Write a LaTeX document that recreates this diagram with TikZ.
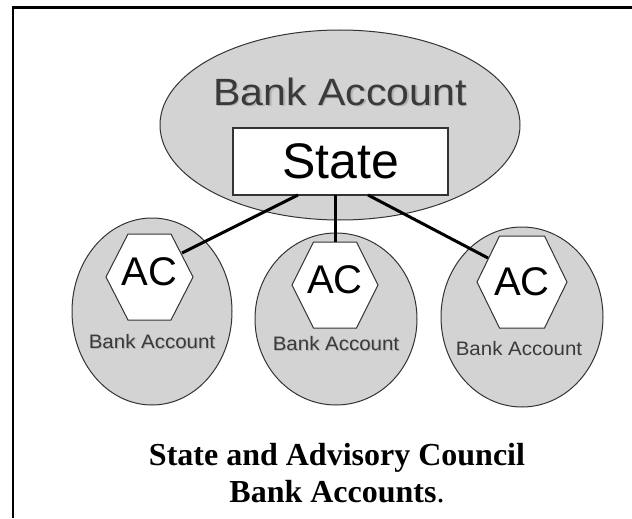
\documentclass[tikz,border=0pt]{standalone}
\usepackage{fontspec}
\setmainfont{Liberation Serif}
\newfontfamily\arialfont{Liberation Sans}
\usetikzlibrary{shapes.geometric}
\definecolor{ellfill}{HTML}{D3D3D3}
\definecolor{ellline}{HTML}{333333}
\definecolor{txtgray}{HTML}{3A3A3A}
\definecolor{shadowgray}{HTML}{8A8A8A}
\tikzset{
  account/.style={ellipse, draw=ellline, fill=ellfill, line width=1pt, inner sep=0pt},
  hexbox/.style={draw=ellline, fill=white, line width=1pt},
  bigtxt/.style={font=\arialfont\fontsize{38}{40}\selectfont, text=txtgray, anchor=base, xscale=1.08},
  smalltxt/.style={font=\arialfont\fontsize{19.5}{22}\selectfont, text=txtgray, anchor=base, xscale=1.05},
  txtshadow/.style={text=shadowgray, text opacity=0.45},
  actxt/.style={font=\arialfont\fontsize{40}{44}\selectfont, anchor=base},
  link/.style={line width=3pt, black},
  captxt/.style={font=\bfseries\fontsize{32}{37}\selectfont, anchor=base}
}
\begin{document}
\begin{tikzpicture}[x=1pt,y=-1pt]
\useasboundingbox (0,0) rectangle (632,519);
% frame
\coordinate (fbl) at (13,518);
\coordinate (ftr) at (632,7.5);
\draw[line width=2.4pt] (fbl) |- (ftr);

% big ellipse
\node[account, minimum width=360, minimum height=190] (big) at (340,125) {};
\node[bigtxt, txtshadow] (bigshadow) at (341.5,106.5) {Bank Account};
\node[bigtxt] (bigtext) at (340,105) {Bank Account};
\node[draw=ellline, fill=white, line width=1.2pt, minimum width=215, minimum height=67, inner sep=0pt,
      font=\arialfont\fontsize{50}{54}\selectfont] (state) at (340.5,161.5) {State};

% small ellipses
\node[account, minimum width=160, minimum height=187] (ell1) at (152,311.5) {};
\node[account, minimum width=162, minimum height=172] (ell2) at (336,319) {};
\node[account, minimum width=162, minimum height=180] (ell3) at (522,317) {};

% hexagons
\draw[hexbox] (106,277) -- (128,234) -- (171,234) -- (193,277) -- (171,320) -- (128,320) -- cycle;
\draw[hexbox] (292,285) -- (313.5,242) -- (356.5,242) -- (378,285) -- (356.5,328) -- (313.5,328) -- cycle;
\draw[hexbox] (477,282) -- (499.5,236) -- (544.5,236) -- (567,282) -- (544.5,328) -- (499.5,328) -- cycle;

\node[actxt] (ac1) at (149.5,285) {AC};
\node[actxt] (ac2) at (335,293) {AC};
\node[actxt] (ac3) at (522,295) {AC};

\node[smalltxt, txtshadow] (bs1) at (153,349) {Bank Account};
\node[smalltxt, txtshadow] (bs2) at (337,351) {Bank Account};
\node[smalltxt] (ba1) at (152,348) {Bank Account};
\node[smalltxt] (ba2) at (336,350) {Bank Account};
\node[smalltxt] (ba3) at (519,355) {Bank Account};

% connectors
\coordinate (s1) at (298,195);
\coordinate (s2) at (335,195);
\coordinate (s3) at (368,195);
\coordinate (h1) at (182,253);
\coordinate (h2) at (335,242);
\coordinate (h3) at (488,258);
\draw[link] (s1) -- (h1);
\draw[link] (s2) -- (h2);
\draw[link] (s3) -- (h3);

% caption
\node[captxt] (cap1) at (337,465) {State and Advisory Council};
\node[captxt] (cap2) at (337,502) {Bank Accounts\textmd{.}};
\end{tikzpicture}
\end{document}
